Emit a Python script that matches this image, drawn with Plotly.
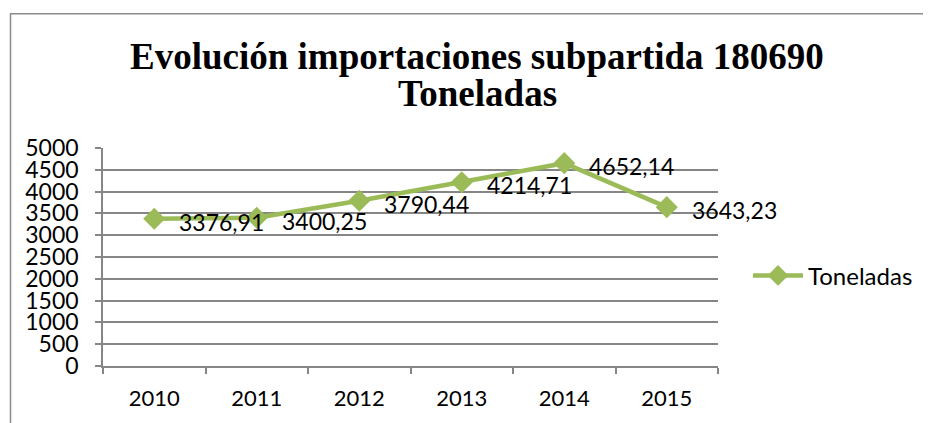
import plotly.graph_objects as go

years = ["2010", "2011", "2012", "2013", "2014", "2015"]
toneladas = [3376.91, 3400.25, 3790.44, 4214.71, 4652.14, 3643.23]
labels = ["3376,91", "3400,25", "3790,44", "4214,71", "4652,14", "3643,23"]
y_ticks = [0, 500, 1000, 1500, 2000, 2500, 3000, 3500, 4000, 4500, 5000]

GREEN = "#9BBB59"
GRID = "#868686"
FONT = "Lato"

# page has an 8px body margin; work in screenshot pixels and shift
OFF = 8
W, H = 931 - OFF, 423 - OFF
PX0, PX1, PY0, PY1 = 103 - OFF, 718 - OFF, 148 - OFF, 368 - OFF
L, R, T, B = PX0, W - PX1, PY0, H - PY1
pw, ph = PX1 - PX0, PY1 - PY0


def px_x(p):
    return (p - OFF - PX0) / pw


def px_y(p):
    return (PY1 - (p - OFF)) / ph


fig = go.Figure()
fig.add_trace(go.Scatter(
    x=years, y=toneladas, name="Toneladas",
    mode="lines+markers",
    line=dict(color=GREEN, width=4.5),
    marker=dict(symbol="diamond", size=17, color=GREEN),
    cliponaxis=False,
))

for i, (v, lab) in enumerate(zip(toneladas, labels)):
    fig.add_annotation(x=i, y=v, xref="x", yref="y", text=lab, showarrow=False,
                       xanchor="left", yanchor="middle", xshift=23, yshift=-3,
                       font=dict(family=FONT, size=23, color="black"))

fig.add_shape(type="rect", xref="paper", yref="paper",
              x0=px_x(10.5), x1=px_x(960), y0=px_y(440), y1=px_y(12.5),
              line=dict(color="#8c8c8c", width=1.5), layer="below")

title_font = dict(family="Liberation Serif", size=37, color="black", weight="bold")
fig.add_annotation(xref="paper", yref="paper", x=px_x(477.5), y=px_y(69),
                   text="Evolución importaciones subpartida 180690",
                   showarrow=False, xanchor="center", yanchor="bottom",
                   yshift=-9, font=title_font)
fig.add_annotation(xref="paper", yref="paper", x=px_x(477.5), y=px_y(107),
                   text="Toneladas",
                   showarrow=False, xanchor="center", yanchor="bottom",
                   yshift=-9, font=title_font)

fig.update_layout(
    width=W, height=H,
    margin=dict(l=L, r=R, t=T, b=B),
    paper_bgcolor="white", plot_bgcolor="white",
    showlegend=True,
    legend=dict(x=px_x(748), y=px_y(277), xanchor="left", yanchor="middle",
                font=dict(family=FONT, size=24, color="black"),
                bgcolor="rgba(0,0,0,0)", itemwidth=50),
    font=dict(family=FONT, size=22, color="black"),
)

fig.update_xaxes(
    type="category", range=[-0.5, 5.5],
    tickson="boundaries", ticks="outside", ticklen=6, tickcolor=GRID, tickwidth=1.5,
    showline=True, linecolor=GRID, linewidth=1.5,
    showgrid=False, ticklabelstandoff=12,
    tickfont=dict(family=FONT, size=22, color="black"),
)
fig.update_yaxes(
    range=[0, 5000], tickvals=y_ticks, ticktext=[str(v) for v in y_ticks],
    ticks="outside", ticklen=6, tickcolor=GRID, tickwidth=1.5,
    showline=True, linecolor=GRID, linewidth=1.5,
    showgrid=True, gridcolor=GRID, gridwidth=1.5,
    zeroline=False, ticklabelstandoff=12,
    tickfont=dict(family=FONT, size=23, color="black"),
)

fig.write_html("out.html")
